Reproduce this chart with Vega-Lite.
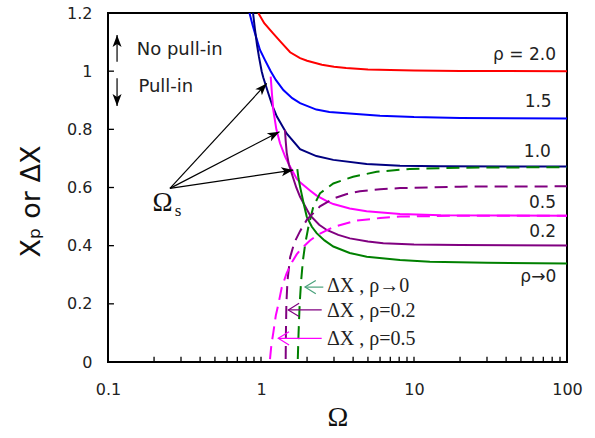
{
  "$schema": "https://vega.github.io/schema/vega-lite/v6.json",
  "width": 459,
  "height": 349,
  "autosize": {"type": "none"},
  "padding": {"left": 108, "top": 13, "right": 28, "bottom": 76},
  "background": "white",
  "config": {
    "view": {"stroke": "black", "strokeWidth": 2},
    "axis": {
      "grid": false,
      "domain": false,
      "ticks": false,
      "zindex": 0,
      "labelFont": "DejaVu Sans",
      "labelFontSize": 16,
      "labelColor": "#222222",
      "labelFlush": false,
      "labelOverlap": false,
      "titleColor": "#111111",
      "titleFontWeight": "normal"
    }
  },
  "resolve": {"axis": {"x": "independent", "y": "independent"}},
  "datasets": {
    "curves": [
      {"series": "ρ=2.0", "kind": "Xp", "omega": 0.96, "value": 1.2},
      {"series": "ρ=2.0", "kind": "Xp", "omega": 1.05, "value": 1.165},
      {"series": "ρ=2.0", "kind": "Xp", "omega": 1.2, "value": 1.13},
      {"series": "ρ=2.0", "kind": "Xp", "omega": 1.35, "value": 1.1},
      {"series": "ρ=2.0", "kind": "Xp", "omega": 1.55, "value": 1.065},
      {"series": "ρ=2.0", "kind": "Xp", "omega": 1.8, "value": 1.045},
      {"series": "ρ=2.0", "kind": "Xp", "omega": 2.0, "value": 1.036},
      {"series": "ρ=2.0", "kind": "Xp", "omega": 2.5, "value": 1.022},
      {"series": "ρ=2.0", "kind": "Xp", "omega": 3.0, "value": 1.015},
      {"series": "ρ=2.0", "kind": "Xp", "omega": 3.6, "value": 1.011},
      {"series": "ρ=2.0", "kind": "Xp", "omega": 5, "value": 1.006},
      {"series": "ρ=2.0", "kind": "Xp", "omega": 7, "value": 1.004},
      {"series": "ρ=2.0", "kind": "Xp", "omega": 10, "value": 1.002},
      {"series": "ρ=2.0", "kind": "Xp", "omega": 20, "value": 1.001},
      {"series": "ρ=2.0", "kind": "Xp", "omega": 100, "value": 1.0},

      {"series": "ρ=1.5", "kind": "Xp", "omega": 0.841, "value": 1.2},
      {"series": "ρ=1.5", "kind": "Xp", "omega": 0.88, "value": 1.16},
      {"series": "ρ=1.5", "kind": "Xp", "omega": 0.914, "value": 1.13},
      {"series": "ρ=1.5", "kind": "Xp", "omega": 0.95, "value": 1.1},
      {"series": "ρ=1.5", "kind": "Xp", "omega": 0.985, "value": 1.073},
      {"series": "ρ=1.5", "kind": "Xp", "omega": 1.062, "value": 1.038},
      {"series": "ρ=1.5", "kind": "Xp", "omega": 1.157, "value": 1.0},
      {"series": "ρ=1.5", "kind": "Xp", "omega": 1.25, "value": 0.97},
      {"series": "ρ=1.5", "kind": "Xp", "omega": 1.4, "value": 0.935},
      {"series": "ρ=1.5", "kind": "Xp", "omega": 1.6, "value": 0.907},
      {"series": "ρ=1.5", "kind": "Xp", "omega": 1.8, "value": 0.89},
      {"series": "ρ=1.5", "kind": "Xp", "omega": 2.3, "value": 0.868},
      {"series": "ρ=1.5", "kind": "Xp", "omega": 2.8, "value": 0.86},
      {"series": "ρ=1.5", "kind": "Xp", "omega": 3.6, "value": 0.855},
      {"series": "ρ=1.5", "kind": "Xp", "omega": 6, "value": 0.847},
      {"series": "ρ=1.5", "kind": "Xp", "omega": 10, "value": 0.842},
      {"series": "ρ=1.5", "kind": "Xp", "omega": 20, "value": 0.839},
      {"series": "ρ=1.5", "kind": "Xp", "omega": 100, "value": 0.837},

      {"series": "ρ=1.0", "kind": "Xp", "omega": 0.887, "value": 1.2},
      {"series": "ρ=1.0", "kind": "Xp", "omega": 0.914, "value": 1.142},
      {"series": "ρ=1.0", "kind": "Xp", "omega": 0.942, "value": 1.09},
      {"series": "ρ=1.0", "kind": "Xp", "omega": 0.97, "value": 1.049},
      {"series": "ρ=1.0", "kind": "Xp", "omega": 1.01, "value": 1.0},
      {"series": "ρ=1.0", "kind": "Xp", "omega": 1.035, "value": 0.978},
      {"series": "ρ=1.0", "kind": "Xp", "omega": 1.116, "value": 0.924},
      {"series": "ρ=1.0", "kind": "Xp", "omega": 1.19, "value": 0.88},
      {"series": "ρ=1.0", "kind": "Xp", "omega": 1.27, "value": 0.844},
      {"series": "ρ=1.0", "kind": "Xp", "omega": 1.47, "value": 0.786},
      {"series": "ρ=1.0", "kind": "Xp", "omega": 1.8, "value": 0.732},
      {"series": "ρ=1.0", "kind": "Xp", "omega": 2.3, "value": 0.708},
      {"series": "ρ=1.0", "kind": "Xp", "omega": 2.97, "value": 0.695},
      {"series": "ρ=1.0", "kind": "Xp", "omega": 4.9, "value": 0.681},
      {"series": "ρ=1.0", "kind": "Xp", "omega": 8.1, "value": 0.675},
      {"series": "ρ=1.0", "kind": "Xp", "omega": 15, "value": 0.673},
      {"series": "ρ=1.0", "kind": "Xp", "omega": 100, "value": 0.672},

      {"series": "ρ=0.5", "kind": "Xp", "omega": 1.157, "value": 0.981},
      {"series": "ρ=0.5", "kind": "Xp", "omega": 1.18, "value": 0.92},
      {"series": "ρ=0.5", "kind": "Xp", "omega": 1.203, "value": 0.867},
      {"series": "ρ=0.5", "kind": "Xp", "omega": 1.26, "value": 0.8},
      {"series": "ρ=0.5", "kind": "Xp", "omega": 1.331, "value": 0.752},
      {"series": "ρ=0.5", "kind": "Xp", "omega": 1.44, "value": 0.705},
      {"series": "ρ=0.5", "kind": "Xp", "omega": 1.547, "value": 0.672},
      {"series": "ρ=0.5", "kind": "Xp", "omega": 1.71, "value": 0.63},
      {"series": "ρ=0.5", "kind": "Xp", "omega": 1.8, "value": 0.618},
      {"series": "ρ=0.5", "kind": "Xp", "omega": 2.09, "value": 0.59},
      {"series": "ρ=0.5", "kind": "Xp", "omega": 2.31, "value": 0.572},
      {"series": "ρ=0.5", "kind": "Xp", "omega": 2.69, "value": 0.553},
      {"series": "ρ=0.5", "kind": "Xp", "omega": 2.97, "value": 0.543},
      {"series": "ρ=0.5", "kind": "Xp", "omega": 3.8, "value": 0.528},
      {"series": "ρ=0.5", "kind": "Xp", "omega": 4.9, "value": 0.518},
      {"series": "ρ=0.5", "kind": "Xp", "omega": 8.1, "value": 0.509},
      {"series": "ρ=0.5", "kind": "Xp", "omega": 15, "value": 0.505},
      {"series": "ρ=0.5", "kind": "Xp", "omega": 100, "value": 0.503},

      {"series": "ρ=0.2", "kind": "Xp", "omega": 1.435, "value": 0.798},
      {"series": "ρ=0.2", "kind": "Xp", "omega": 1.45, "value": 0.76},
      {"series": "ρ=0.2", "kind": "Xp", "omega": 1.472, "value": 0.72},
      {"series": "ρ=0.2", "kind": "Xp", "omega": 1.52, "value": 0.68},
      {"series": "ρ=0.2", "kind": "Xp", "omega": 1.586, "value": 0.649},
      {"series": "ρ=0.2", "kind": "Xp", "omega": 1.7, "value": 0.6},
      {"series": "ρ=0.2", "kind": "Xp", "omega": 1.8, "value": 0.568},
      {"series": "ρ=0.2", "kind": "Xp", "omega": 2.09, "value": 0.505},
      {"series": "ρ=0.2", "kind": "Xp", "omega": 2.4, "value": 0.472},
      {"series": "ρ=0.2", "kind": "Xp", "omega": 2.69, "value": 0.454},
      {"series": "ρ=0.2", "kind": "Xp", "omega": 3.2, "value": 0.437},
      {"series": "ρ=0.2", "kind": "Xp", "omega": 3.81, "value": 0.425},
      {"series": "ρ=0.2", "kind": "Xp", "omega": 5, "value": 0.414},
      {"series": "ρ=0.2", "kind": "Xp", "omega": 6.3, "value": 0.408},
      {"series": "ρ=0.2", "kind": "Xp", "omega": 10, "value": 0.404},
      {"series": "ρ=0.2", "kind": "Xp", "omega": 20, "value": 0.402},
      {"series": "ρ=0.2", "kind": "Xp", "omega": 100, "value": 0.401},

      {"series": "ρ→0", "kind": "Xp", "omega": 1.727, "value": 0.663},
      {"series": "ρ→0", "kind": "Xp", "omega": 1.76, "value": 0.63},
      {"series": "ρ→0", "kind": "Xp", "omega": 1.8, "value": 0.603},
      {"series": "ρ→0", "kind": "Xp", "omega": 1.9, "value": 0.545},
      {"series": "ρ→0", "kind": "Xp", "omega": 1.99, "value": 0.5},
      {"series": "ρ→0", "kind": "Xp", "omega": 2.15, "value": 0.465},
      {"series": "ρ→0", "kind": "Xp", "omega": 2.31, "value": 0.443},
      {"series": "ρ→0", "kind": "Xp", "omega": 2.6, "value": 0.418},
      {"series": "ρ→0", "kind": "Xp", "omega": 2.97, "value": 0.397},
      {"series": "ρ→0", "kind": "Xp", "omega": 3.8, "value": 0.375},
      {"series": "ρ→0", "kind": "Xp", "omega": 4.91, "value": 0.362},
      {"series": "ρ→0", "kind": "Xp", "omega": 8.1, "value": 0.351},
      {"series": "ρ→0", "kind": "Xp", "omega": 12.7, "value": 0.345},
      {"series": "ρ→0", "kind": "Xp", "omega": 30, "value": 0.341},
      {"series": "ρ→0", "kind": "Xp", "omega": 100, "value": 0.339},

      {"series": "ρ→0", "kind": "ΔX", "omega": 1.74, "value": 0.01},
      {"series": "ρ→0", "kind": "ΔX", "omega": 1.76, "value": 0.1},
      {"series": "ρ→0", "kind": "ΔX", "omega": 1.79, "value": 0.2},
      {"series": "ρ→0", "kind": "ΔX", "omega": 1.83, "value": 0.28},
      {"series": "ρ→0", "kind": "ΔX", "omega": 1.88, "value": 0.35},
      {"series": "ρ→0", "kind": "ΔX", "omega": 1.95, "value": 0.41},
      {"series": "ρ→0", "kind": "ΔX", "omega": 2.05, "value": 0.47},
      {"series": "ρ→0", "kind": "ΔX", "omega": 2.2, "value": 0.535},
      {"series": "ρ→0", "kind": "ΔX", "omega": 2.43, "value": 0.58},
      {"series": "ρ→0", "kind": "ΔX", "omega": 2.97, "value": 0.614},
      {"series": "ρ→0", "kind": "ΔX", "omega": 4.0, "value": 0.637},
      {"series": "ρ→0", "kind": "ΔX", "omega": 5.7, "value": 0.654},
      {"series": "ρ→0", "kind": "ΔX", "omega": 9.4, "value": 0.664},
      {"series": "ρ→0", "kind": "ΔX", "omega": 20, "value": 0.668},
      {"series": "ρ→0", "kind": "ΔX", "omega": 100, "value": 0.67},

      {"series": "ρ=0.2", "kind": "ΔX", "omega": 1.45, "value": 0.01},
      {"series": "ρ=0.2", "kind": "ΔX", "omega": 1.455, "value": 0.1},
      {"series": "ρ=0.2", "kind": "ΔX", "omega": 1.465, "value": 0.2},
      {"series": "ρ=0.2", "kind": "ΔX", "omega": 1.49, "value": 0.28},
      {"series": "ρ=0.2", "kind": "ΔX", "omega": 1.55, "value": 0.36},
      {"series": "ρ=0.2", "kind": "ΔX", "omega": 1.65, "value": 0.41},
      {"series": "ρ=0.2", "kind": "ΔX", "omega": 1.8, "value": 0.45},
      {"series": "ρ=0.2", "kind": "ΔX", "omega": 2.0, "value": 0.49},
      {"series": "ρ=0.2", "kind": "ΔX", "omega": 2.43, "value": 0.535},
      {"series": "ρ=0.2", "kind": "ΔX", "omega": 2.97, "value": 0.562},
      {"series": "ρ=0.2", "kind": "ΔX", "omega": 3.6, "value": 0.577},
      {"series": "ρ=0.2", "kind": "ΔX", "omega": 4.43, "value": 0.587},
      {"series": "ρ=0.2", "kind": "ΔX", "omega": 6, "value": 0.594},
      {"series": "ρ=0.2", "kind": "ΔX", "omega": 8.1, "value": 0.598},
      {"series": "ρ=0.2", "kind": "ΔX", "omega": 20, "value": 0.603},
      {"series": "ρ=0.2", "kind": "ΔX", "omega": 100, "value": 0.604},

      {"series": "ρ=0.5", "kind": "ΔX", "omega": 1.145, "value": 0.01},
      {"series": "ρ=0.5", "kind": "ΔX", "omega": 1.17, "value": 0.06},
      {"series": "ρ=0.5", "kind": "ΔX", "omega": 1.203, "value": 0.1},
      {"series": "ρ=0.5", "kind": "ΔX", "omega": 1.25, "value": 0.16},
      {"series": "ρ=0.5", "kind": "ΔX", "omega": 1.3, "value": 0.2},
      {"series": "ρ=0.5", "kind": "ΔX", "omega": 1.365, "value": 0.255},
      {"series": "ρ=0.5", "kind": "ΔX", "omega": 1.47, "value": 0.305},
      {"series": "ρ=0.5", "kind": "ΔX", "omega": 1.6, "value": 0.345},
      {"series": "ρ=0.5", "kind": "ΔX", "omega": 1.71, "value": 0.37},
      {"series": "ρ=0.5", "kind": "ΔX", "omega": 1.8, "value": 0.385},
      {"series": "ρ=0.5", "kind": "ΔX", "omega": 2.09, "value": 0.418},
      {"series": "ρ=0.5", "kind": "ΔX", "omega": 2.4, "value": 0.44},
      {"series": "ρ=0.5", "kind": "ΔX", "omega": 2.97, "value": 0.464},
      {"series": "ρ=0.5", "kind": "ΔX", "omega": 4.2, "value": 0.486},
      {"series": "ρ=0.5", "kind": "ΔX", "omega": 6, "value": 0.495},
      {"series": "ρ=0.5", "kind": "ΔX", "omega": 8.1, "value": 0.5},
      {"series": "ρ=0.5", "kind": "ΔX", "omega": 20, "value": 0.503},
      {"series": "ρ=0.5", "kind": "ΔX", "omega": 100, "value": 0.503}
    ],
    "xTicks": [
      {"omega": 0.2}, {"omega": 0.3}, {"omega": 0.4}, {"omega": 0.5}, {"omega": 0.6}, {"omega": 0.7}, {"omega": 0.8}, {"omega": 0.9},
      {"omega": 1}, {"omega": 2}, {"omega": 3}, {"omega": 4}, {"omega": 5}, {"omega": 6}, {"omega": 7}, {"omega": 8}, {"omega": 9},
      {"omega": 10}, {"omega": 20}, {"omega": 30}, {"omega": 40}, {"omega": 50}, {"omega": 60}, {"omega": 70}, {"omega": 80}, {"omega": 90}
    ],
    "yTicks": [
      {"value": 0.2}, {"value": 0.4}, {"value": 0.6}, {"value": 0.8}, {"value": 1.0}
    ],
    "blackArrows": [
      {"name": "Ωs 1", "x": 0.254, "y": 0.597, "x2": 1.09, "y2": 0.958},
      {"name": "Ωs 2", "x": 0.254, "y": 0.597, "x2": 1.321, "y2": 0.792},
      {"name": "Ωs 3", "x": 0.254, "y": 0.597, "x2": 1.626, "y2": 0.66},
      {"name": "up", "x": 0.1146, "y": 1.032, "x2": 0.1146, "y2": 1.124},
      {"name": "down", "x": 0.1146, "y": 0.976, "x2": 0.1146, "y2": 0.88}
    ],
    "colorArrows": [
      {"series": "ρ→0 pointer", "x": 2.554, "y": 0.2575, "x2": 1.939, "y2": 0.2575},
      {"series": "ρ=0.2", "x": 2.493, "y": 0.179, "x2": 1.508, "y2": 0.179},
      {"series": "ρ=0.5", "x": 2.493, "y": 0.0815, "x2": 1.297, "y2": 0.0815}
    ],
    "rhoLabels": [
      {"text": "ρ = 2.0", "omega": 84.7, "value": 1.056},
      {"text": "1.5", "omega": 79.4, "value": 0.895},
      {"text": "1.0", "omega": 78.5, "value": 0.723},
      {"text": "0.5", "omega": 84.7, "value": 0.546},
      {"text": "0.2", "omega": 85, "value": 0.447},
      {"text": "ρ→0", "omega": 85, "value": 0.291}
    ],
    "pullLabels": [
      {"text": "No pull-in", "omega": 0.154, "value": 1.073},
      {"text": "Pull-in", "omega": 0.158, "value": 0.947}
    ],
    "dxLabels": [
      {"text": "ΔX , ρ→0", "omega": 2.7, "value": 0.26},
      {"text": "ΔX , ρ=0.2", "omega": 2.7, "value": 0.1755},
      {"text": "ΔX , ρ=0.5", "omega": 2.7, "value": 0.079}
    ]
  },
  "layer": [
    {
      "mark": {"type": "rule", "color": "black", "strokeWidth": 1.3},
      "encoding": {"y": {"datum": 1, "type": "quantitative", "axis": null}}
    },
    {
      "data": {"name": "curves"},
      "transform": [{"filter": "datum.kind === 'Xp'"}],
      "mark": {"type": "line", "strokeWidth": 2, "clip": true},
      "encoding": {
        "x": {
          "field": "omega", "type": "quantitative",
          "scale": {"type": "log", "domain": [0.1, 100], "nice": false},
          "axis": {
            "title": "Ω",
            "titleFont": "Liberation Serif",
            "titleFontSize": 28,
            "titleBaseline": "middle",
            "titleY": 55,
            "values": [0.1, 1, 10, 100],
            "format": "~g",
            "labelPadding": 19
          }
        },
        "y": {
          "field": "value", "type": "quantitative",
          "scale": {"domain": [0, 1.2], "nice": false, "zero": false},
          "axis": {
            "title": "Xₚ or ΔX",
            "titleFont": "DejaVu Sans",
            "titleFontSize": 27,
            "titleBaseline": "middle",
            "titleX": -77,
            "titleY": 188,
            "values": [0, 0.2, 0.4, 0.6, 0.8, 1, 1.2],
            "format": "~g",
            "labelPadding": 16
          }
        },
        "color": {
          "field": "series", "type": "nominal", "legend": null,
          "scale": {
            "domain": ["ρ=2.0", "ρ=1.5", "ρ=1.0", "ρ=0.5", "ρ=0.2", "ρ→0", "ρ→0 pointer"],
            "range": ["#ff0000", "#0000ff", "#000080", "#ff00ff", "#800080", "#008000", "#4aa27c"]
          }
        }
      }
    },
    {
      "data": {"name": "curves"},
      "transform": [{"filter": "datum.kind === 'ΔX'"}],
      "mark": {"type": "line", "strokeWidth": 2, "strokeDash": [13, 7], "clip": true},
      "encoding": {
        "x": {"field": "omega", "type": "quantitative", "axis": null},
        "y": {"field": "value", "type": "quantitative", "axis": null},
        "color": {"field": "series", "type": "nominal", "legend": null}
      }
    },
    {
      "data": {"name": "xTicks"},
      "mark": {"type": "rule", "color": "black", "strokeWidth": 1.3},
      "encoding": {
        "x": {"field": "omega", "type": "quantitative", "axis": null},
        "y": {"datum": 0, "type": "quantitative", "axis": null},
        "y2": {"datum": 0.018}
      }
    },
    {
      "data": {"name": "yTicks"},
      "mark": {"type": "rule", "color": "black", "strokeWidth": 1.3},
      "encoding": {
        "y": {"field": "value", "type": "quantitative", "axis": null},
        "x": {"datum": 0.1, "type": "quantitative", "axis": null},
        "x2": {"datum": 0.1094}
      }
    },
    {
      "data": {"name": "blackArrows"},
      "mark": {"type": "rule", "color": "black", "strokeWidth": 1.2},
      "encoding": {
        "x": {"field": "x", "type": "quantitative", "axis": null},
        "y": {"field": "y", "type": "quantitative", "axis": null},
        "x2": {"field": "x2"},
        "y2": {"field": "y2"}
      }
    },
    {
      "data": {"name": "blackArrows"},
      "transform": [
        {"calculate": "(360 - atan2(290.8 * (datum.y2 - datum.y), 153 * log(datum.x2 / datum.x) / LN10) * 180 / PI) % 360", "as": "heading"}
      ],
      "mark": {"type": "point", "shape": "M0,0 L-2,-0.75 L-1.5,0 L-2,0.75 Z", "filled": true, "size": 144, "color": "black", "opacity": 1, "strokeWidth": 0},
      "encoding": {
        "x": {"field": "x2", "type": "quantitative", "axis": null},
        "y": {"field": "y2", "type": "quantitative", "axis": null},
        "angle": {"field": "heading", "type": "quantitative", "scale": null}
      }
    },
    {
      "data": {"name": "colorArrows"},
      "mark": {"type": "rule", "strokeWidth": 1.2},
      "encoding": {
        "x": {"field": "x", "type": "quantitative", "axis": null},
        "y": {"field": "y", "type": "quantitative", "axis": null},
        "x2": {"field": "x2"},
        "y2": {"field": "y2"},
        "color": {"field": "series", "type": "nominal", "legend": null}
      }
    },
    {
      "data": {"name": "colorArrows"},
      "mark": {"type": "point", "shape": "M-1.8,-1.1 L0,0 L-1.8,1.1", "filled": false, "size": 144, "strokeWidth": 1.2, "opacity": 1, "angle": 180},
      "encoding": {
        "x": {"field": "x2", "type": "quantitative", "axis": null},
        "y": {"field": "y2", "type": "quantitative", "axis": null},
        "color": {"field": "series", "type": "nominal", "legend": null}
      }
    },
    {
      "data": {"name": "rhoLabels"},
      "mark": {"type": "text", "align": "right", "baseline": "middle", "font": "DejaVu Sans", "fontSize": 17, "color": "#222222"},
      "encoding": {
        "x": {"field": "omega", "type": "quantitative", "axis": null},
        "y": {"field": "value", "type": "quantitative", "axis": null},
        "text": {"field": "text"}
      }
    },
    {
      "data": {"name": "pullLabels"},
      "mark": {"type": "text", "align": "left", "baseline": "middle", "font": "DejaVu Sans", "fontSize": 18, "color": "#222222"},
      "encoding": {
        "x": {"field": "omega", "type": "quantitative", "axis": null},
        "y": {"field": "value", "type": "quantitative", "axis": null},
        "text": {"field": "text"}
      }
    },
    {
      "data": {"name": "dxLabels"},
      "mark": {"type": "text", "align": "left", "baseline": "middle", "font": "Liberation Serif", "fontSize": 20, "color": "#222222"},
      "encoding": {
        "x": {"field": "omega", "type": "quantitative", "axis": null},
        "y": {"field": "value", "type": "quantitative", "axis": null},
        "text": {"field": "text"}
      }
    },
    {
      "data": {"values": [{"text": "Ω", "omega": 0.2271, "value": 0.545}]},
      "mark": {"type": "text", "align": "center", "baseline": "middle", "font": "Liberation Serif", "fontSize": 27, "color": "#111111"},
      "encoding": {
        "x": {"field": "omega", "type": "quantitative", "axis": null},
        "y": {"field": "value", "type": "quantitative", "axis": null},
        "text": {"field": "text"}
      }
    },
    {
      "data": {"values": [{"text": "s", "omega": 0.2868, "value": 0.5175}]},
      "mark": {"type": "text", "align": "center", "baseline": "middle", "font": "Liberation Serif", "fontSize": 17, "color": "#111111"},
      "encoding": {
        "x": {"field": "omega", "type": "quantitative", "axis": null},
        "y": {"field": "value", "type": "quantitative", "axis": null},
        "text": {"field": "text"}
      }
    }
  ]
}
